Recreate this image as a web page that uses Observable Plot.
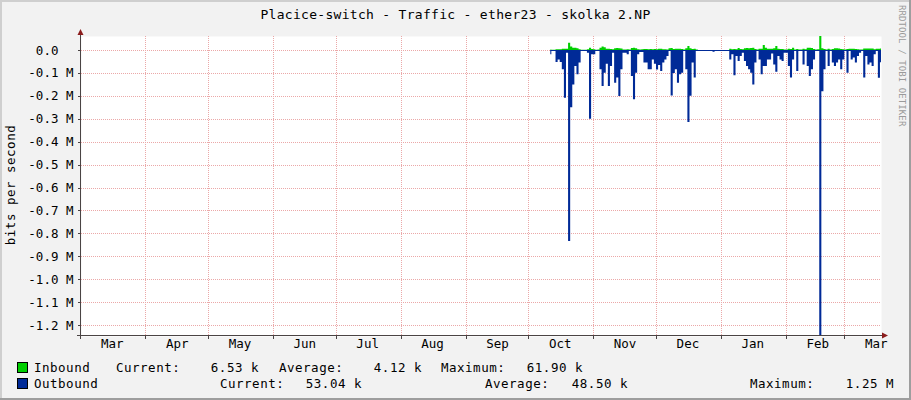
<!DOCTYPE html>
<html><head><meta charset="utf-8">
<script src="https://cdn.jsdelivr.net/npm/d3@7"></script>
<script src="https://cdn.jsdelivr.net/npm/@observablehq/plot@0.6"></script>
<style>
html,body{margin:0;padding:0;background:#f2f2f2;}
#chart svg{display:block;}
</style></head><body><div id="chart"></div>
<script>
// ---------- data ----------
const title = "Placice-switch - Traffic - ether23 - skolka 2.NP";
const yAxisLabel = "bits per second";
const watermark = "RRDTOOL / TOBI OETIKER";
const domainStart = "2018-03-01T07:00Z";
const domainEnd = "2019-03-18T12:00Z";
const monthLabels = ["Mar","Apr","May","Jun","Jul","Aug","Sep","Oct","Nov","Dec","Jan","Feb","Mar"];
const monthStarts = ["2018-03-01","2018-04-01","2018-05-01","2018-06-01","2018-07-01","2018-08-01","2018-09-01","2018-10-01","2018-11-01","2018-12-01","2019-01-01","2019-02-01","2019-03-01"];
const yTickValues = [0,-100000,-200000,-300000,-400000,-500000,-600000,-700000,-800000,-900000,-1000000,-1100000,-1200000];
const yTickLabels = ["0.0\u00a0\u00a0","-0.1 M","-0.2 M","-0.3 M","-0.4 M","-0.5 M","-0.6 M","-0.7 M","-0.8 M","-0.9 M","-1.0 M","-1.1 M","-1.2 M"];
const firstDay = "2018-10-11";
// daily values, kbit/s
const outboundKbps = [
  19,3,3,52,41,52,84,208,12,833,
  250,150,70,106,55,3,3,3,12,300,
  19,19,3,3,84,157,99,60,157,70,
  12,143,120,201,84,12,12,19,4,113,
  215,99,19,9,9,55,55,84,84,41,
  60,85,65,92,55,41,26,4,198,100,
  84,143,106,99,4,84,314,200,55,120,
  4,1,1,1,1,1,1,1,8,1,
  1,1,1,1,1,1,41,19,110,26,
  48,26,12,48,70,84,99,150,55,4,
  41,106,70,70,41,41,15,63,95,26,
  41,48,12,12,70,120,41,4,92,4,
  4,63,4,70,113,84,41,4,4,1250,
  180,84,4,70,4,55,70,55,41,84,
  41,4,99,4,41,33,55,26,12,4,
  120,26,63,55,70,19,4,121,53
];
const inboundKbps = [
  2,1,1,3,3,3,6,6,5,32,
  15,10,10,8,3,1,1,1,3,10,
  4,3,1,2,10,15,12,5,6,4,
  3,8,9,8,7,2,2,3,2,9,
  10,8,3,2,3,4,4,3,4,3,
  4,3,6,6,3,3,2,8,9,4,
  6,6,6,4,2,8,18,8,4,6,
  2,0,0,0,0,0,0,0,0,0,
  0,0,0,0,0,0,6,3,4,3,
  9,4,3,8,9,8,9,10,4,2,
  6,6,22,10,6,5,6,8,18,6,
  4,4,2,2,6,4,10,2,4,2,
  2,6,3,10,10,9,4,2,3,61.9,
  8,4,2,6,2,4,8,8,7,4,
  3,2,4,6,6,6,4,3,2,2,
  7,7,7,7,7,3,6,6,6.53
];
const legendRows = [
  {name: "Inbound",  color: "#00CF00", items: [["Current:", "6.53 k"], ["Average:", "4.12 k"], ["Maximum:", "61.90 k"]]},
  {name: "Outbound", color: "#002A97", items: [["Current:", "53.04 k"], ["Average:", "48.50 k"], ["Maximum:", "1.25 M"]]}
];

// ---------- build ----------
const parse = d3.utcParse("%Y-%m-%d");
const day0 = parse(firstDay);
const traffic = outboundKbps.map((v, i) => {
  const date = d3.utcHour.offset(d3.utcDay.offset(day0, i), 12);
  return {date, out: -v * 1000, inb: inboundKbps[i] * 1000};
});
const months = monthStarts.map(parse);
const gridMonths = months.slice(1);
const labelDates = months.map(d => d3.utcDay.offset(d, 15));
const FONT = "'DejaVu Sans Mono', monospace";
const gridColor = "#eba8a8";
const axisColor = "#4a4444";
const arrowColor = "#8b1c1c";

const plot = Plot.plot({
  width: 911, height: 400,
  marginLeft: 81, marginRight: 30, marginTop: 36, marginBottom: 64,
  style: {background: "#f2f2f2", fontFamily: FONT, fontSize: "12.5px", color: "#000"},
  x: {type: "utc", domain: [new Date(domainStart), new Date(domainEnd)], axis: null},
  y: {domain: [-1248000, 61100], axis: null},
  marks: [
    Plot.frame({fill: "white", stroke: "none"}),
    Plot.ruleY(yTickValues, {stroke: gridColor, strokeDasharray: "1,1", shapeRendering: "crispEdges"}),
    Plot.ruleX(gridMonths, {stroke: gridColor, strokeDasharray: "1,1", shapeRendering: "crispEdges"}),
    Plot.areaY(traffic, {x: "date", y1: 0, y2: "inb", fill: "#00CF00", curve: "step", clip: true}),
    Plot.areaY(traffic, {x: "date", y1: 0, y2: "out", fill: "#002A97", curve: "step", clip: true}),
    Plot.ruleY([0], {x1: traffic[0].date, x2: traffic[traffic.length - 1].date, stroke: "#002A97", strokeWidth: 1}),
    Plot.text(yTickValues, {y: d => d, frameAnchor: "left", text: (d, i) => yTickLabels[i], textAnchor: "end", dx: -8, fill: "#000", fontSize: 12.5, letterSpacing: 0.5}),
    Plot.text(labelDates, {x: d => d, frameAnchor: "bottom", text: (d, i) => monthLabels[i], dy: 11, fill: "#000", fontSize: 12.5, letterSpacing: 0.5})
  ]
});
document.getElementById("chart").appendChild(plot);

const svg = d3.select(plot);
const xs = plot.scale("x"), ys = plot.scale("y");
const pLeft = xs.range[0], pRight = xs.range[1];
const pTop = ys.range[1], pBottom = ys.range[0];

// border shading
svg.append("rect").attr("x", 0).attr("y", 0).attr("width", 911).attr("height", 2).attr("fill", "#cfcfcf");
svg.append("rect").attr("x", 0).attr("y", 0).attr("width", 2).attr("height", 400).attr("fill", "#cfcfcf");
svg.append("rect").attr("x", 0).attr("y", 398).attr("width", 911).attr("height", 2).attr("fill", "#9e9e9e");
svg.append("rect").attr("x", 909).attr("y", 0).attr("width", 2).attr("height", 400).attr("fill", "#9e9e9e");

// axes
const ax = pLeft - 0.5, ay = pBottom - 0.5;
const g = svg.append("g").attr("stroke", axisColor).attr("stroke-width", 1).attr("shape-rendering", "crispEdges");
g.append("line").attr("x1", ax).attr("x2", ax).attr("y1", pTop - 4).attr("y2", pBottom + 3);
g.append("line").attr("x1", pLeft - 4).attr("x2", pRight + 3).attr("y1", ay).attr("y2", ay);
yTickValues.forEach(v => {
  const yy = Math.round(ys.apply(v)) + 0.5;
  g.append("line").attr("x1", ax - 3).attr("x2", ax).attr("y1", yy).attr("y2", yy);
});
gridMonths.forEach(d => {
  const xx = Math.round(xs.apply(d)) + 0.5;
  g.append("line").attr("x1", xx).attr("x2", xx).attr("y1", ay).attr("y2", ay + 3);
});
svg.append("path").attr("fill", arrowColor)
  .attr("d", `M${ax},${pTop - 7}L${ax - 3},${pTop - 1}L${ax + 3},${pTop - 1}Z`);
svg.append("path").attr("fill", arrowColor)
  .attr("d", `M${pRight + 7},${ay}L${pRight + 1},${ay - 3}L${pRight + 1},${ay + 3}Z`);

// texts
const txt = (x, y, s, opts = {}) => svg.append("text")
  .attr("x", x).attr("y", y).text(s)
  .attr("font-family", FONT).attr("font-size", opts.size || 12.5)
  .attr("letter-spacing", opts.ls ?? 0.5)
  .attr("fill", opts.fill || "#000")
  .attr("text-anchor", opts.anchor || "start")
  .attr("transform", opts.transform || null);

txt(455.5, 19, title, {anchor: "middle", size: 13, ls: 0.3});
txt(0, 0, yAxisLabel, {anchor: "middle", transform: "translate(15,185) rotate(-90)"});
txt(0, 0, watermark, {size: 9, ls: 0.1, fill: "#9a9a9a", transform: "translate(899,5) rotate(90)"});

const rowY = [372, 388];
const labelX = [[116, 279, 441], [220, 485, 750]];
const valueX = [[259, 422, 583], [362, 628, 894]];
legendRows.forEach((row, r) => {
  svg.append("rect").attr("x", 17.5).attr("y", rowY[r] - 9.5).attr("width", 10).attr("height", 10)
    .attr("fill", row.color).attr("stroke", "#000").attr("stroke-width", 1);
  txt(34, rowY[r], row.name);
  row.items.forEach((it, j) => {
    txt(labelX[r][j], rowY[r], it[0]);
    txt(valueX[r][j], rowY[r], it[1], {anchor: "end"});
  });
});
</script></body></html>
